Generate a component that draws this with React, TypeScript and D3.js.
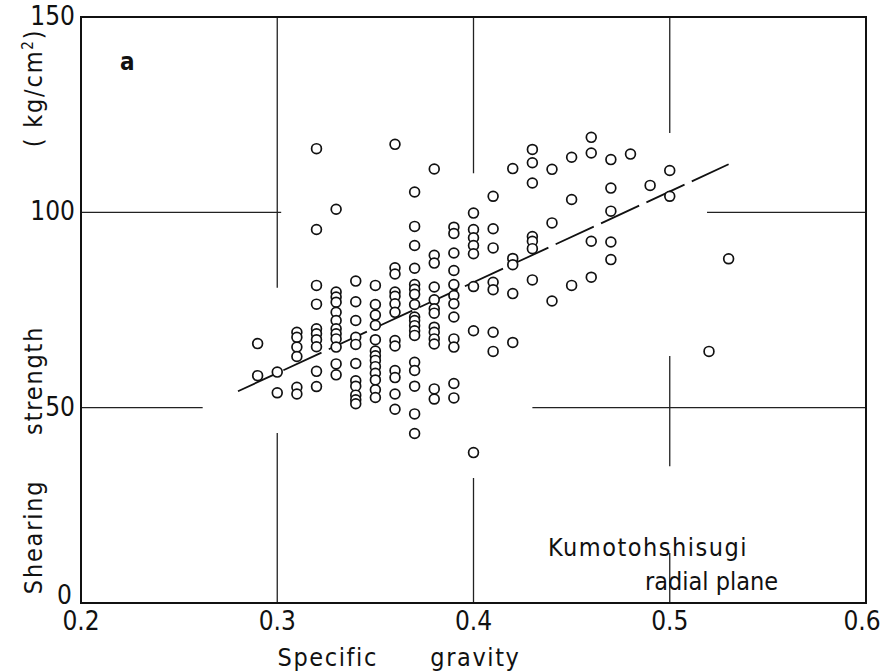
import { useEffect, useRef } from "react";
import * as d3 from "d3";

// specific gravity columns and the shearing strengths read at each one
const gravity = [0.29, 0.3, 0.31, 0.32, 0.33, 0.34, 0.35, 0.36, 0.37, 0.38, 0.39, 0.4, 0.41, 0.42, 0.43, 0.44, 0.45, 0.46, 0.47, 0.48, 0.49, 0.5, 0.52, 0.53];
const strength = [
  [66.4, 58.2],
  [59.1, 53.8],
  [69.3, 68.0, 65.5, 63.1, 55.2, 53.5],
  [116.3, 95.6, 81.3, 76.5, 70.2, 68.9, 67.4, 65.6, 59.3, 55.4],
  [100.8, 79.6, 78.3, 77.0, 74.4, 72.3, 70.2, 68.9, 67.6, 65.5, 61.2, 58.4],
  [82.4, 77.1, 72.3, 68.0, 66.2, 61.3, 56.9, 55.5, 53.2, 52.0, 51.0],
  [81.3, 76.4, 73.7, 71.1, 67.4, 64.5, 63.3, 62.1, 60.5, 58.8, 57.1, 54.6, 52.6],
  [117.4, 85.8, 84.2, 79.6, 78.5, 76.6, 74.4, 67.2, 65.8, 59.5, 57.7, 53.5, 49.6],
  [105.2, 96.4, 91.5, 85.7, 81.5, 80.3, 79.0, 76.4, 73.2, 72.3, 71.0, 69.7, 68.5, 61.6, 59.5, 55.5, 48.4, 43.4],
  [111.1, 89.0, 87.0, 80.9, 77.6, 75.3, 74.2, 70.6, 69.3, 67.6, 66.3, 54.8, 52.2],
  [96.2, 94.6, 89.6, 85.1, 81.5, 78.7, 76.6, 73.2, 67.6, 65.5, 56.2, 52.5],
  [99.8, 95.6, 93.5, 91.5, 89.4, 81.0, 69.7, 38.5],
  [104.1, 95.8, 90.9, 82.1, 80.2, 69.3, 64.4],
  [111.2, 88.2, 86.6, 79.2, 66.7],
  [116.1, 112.7, 107.5, 93.8, 92.6, 90.7, 82.7],
  [111.0, 97.3, 77.3],
  [114.1, 103.3, 81.3],
  [119.2, 115.2, 92.6, 83.4],
  [113.5, 106.2, 100.3, 92.4, 87.9],
  [114.9],
  [106.9],
  [110.7, 104.1],
  [64.4],
  [88.1],
];

// regression line end points
const fitGravity = [0.28, 0.53];
const fitStrength = [54.2, 112.3];

const xTicks = [0.2, 0.3, 0.4, 0.5, 0.6];
const yTicks = [0, 50, 100, 150];

// grid pieces, only drawn where the points leave room
const gridV = [
  { at: 0.3, from: 150, to: 80.7 },
  { at: 0.3, from: 43.5, to: 0 },
  { at: 0.4, from: 150, to: 110 },
  { at: 0.4, from: 32, to: 0 },
  { at: 0.5, from: 150, to: 120.3 },
  { at: 0.5, from: 63.2, to: 35 },
  { at: 0.5, from: 12.8, to: 0 },
];
const gridH = [
  { at: 100, from: 0.2, to: 0.302 },
  { at: 100, from: 0.519, to: 0.6 },
  { at: 50, from: 0.2, to: 0.262 },
  { at: 50, from: 0.43, to: 0.6 },
];

const font = "'Liberation Sans Narrow', 'DejaVu Sans Condensed', 'Liberation Sans', sans-serif";

export default function App() {
  const svgRef = useRef<SVGSVGElement>(null);

  useEffect(() => {
    if (!svgRef.current) return;
    const svg = d3.select(svgRef.current);
    svg.selectAll("*").remove();

    const width = 881;
    const height = 672;
    const margin = { top: 17, right: 15, bottom: 69, left: 81 };

    const x = d3.scaleLinear().domain([0.2, 0.6]).range([margin.left, width - margin.right]);
    const y = d3.scaleLinear().domain([0, 150]).range([height - margin.bottom, margin.top]);

    svg.append("rect").attr("width", width).attr("height", height).attr("fill", "#fff");

    // grid
    svg.selectAll(".gv")
      .data(gridV)
      .join("line")
      .attr("x1", (d) => x(d.at))
      .attr("x2", (d) => x(d.at))
      .attr("y1", (d) => y(d.from))
      .attr("y2", (d) => y(d.to))
      .attr("stroke", "#222")
      .attr("stroke-width", 1.3);

    svg.selectAll(".gh")
      .data(gridH)
      .join("line")
      .attr("x1", (d) => x(d.from))
      .attr("x2", (d) => x(d.to))
      .attr("y1", (d) => y(d.at))
      .attr("y2", (d) => y(d.at))
      .attr("stroke", "#222")
      .attr("stroke-width", 1.3);

    // frame
    svg.append("rect")
      .attr("x", x(0.2))
      .attr("y", y(150))
      .attr("width", x(0.6) - x(0.2))
      .attr("height", y(0) - y(150))
      .attr("fill", "none")
      .attr("stroke", "#111")
      .attr("stroke-width", 2);

    // tick labels
    svg.selectAll(".yt")
      .data(yTicks)
      .join("text")
      .attr("x", (d) => (d === 0 ? x(0.2) - 9 : x(0.2) - 6))
      .attr("y", (d) => (d === 0 ? y(d) + 1 : y(d) + 8))
      .attr("text-anchor", "end")
      .attr("font-family", font)
      .attr("font-size", 26)
      .attr("fill", "#111")
      .text((d) => d);

    svg.selectAll(".xt")
      .data(xTicks)
      .join("text")
      .attr("x", (d) => (d === 0.6 ? x(d) - 4 : x(d)))
      .attr("y", y(0) + 27)
      .attr("text-anchor", "middle")
      .attr("font-family", font)
      .attr("font-size", 26)
      .attr("fill", "#111")
      .text((d) => d3.format(".1f")(d));

    // regression line
    const line = d3
      .line<number>()
      .x((d) => x(d))
      .y((_, i) => y(fitStrength[i]));
    svg.append("path")
      .datum(fitGravity)
      .attr("d", line)
      .attr("fill", "none")
      .attr("stroke", "#111")
      .attr("stroke-width", 1.8)
      .attr("stroke-dasharray", "42 8");

    // points
    const pts = gravity.flatMap((g, i) => strength[i].map((s) => ({ g, s })));
    svg.selectAll(".pt")
      .data(pts)
      .join("circle")
      .attr("cx", (d) => x(d.g))
      .attr("cy", (d) => y(d.s))
      .attr("r", 4.9)
      .attr("fill", "#fff")
      .attr("stroke", "#111")
      .attr("stroke-width", 1.7);

    // titles
    svg.append("text")
      .attr("x", x(0.2) + 39)
      .attr("y", 70)
      .attr("font-family", font)
      .attr("font-size", 24)
      .attr("font-weight", "bold")
      .attr("fill", "#111")
      .text("a");

    svg.append("text")
      .attr("x", 399)
      .attr("y", 666)
      .attr("text-anchor", "middle")
      .attr("font-family", font)
      .attr("font-size", 25)
      .attr("letter-spacing", 1.6)
      .attr("fill", "#111")
      .attr("xml:space", "preserve")
      .text("Specific      gravity");

    svg.append("text")
      .attr("transform", "translate(42,460) rotate(-90)")
      .attr("text-anchor", "middle")
      .attr("font-family", font)
      .attr("font-size", 25)
      .attr("letter-spacing", 1.8)
      .attr("fill", "#111")
      .attr("xml:space", "preserve")
      .text("Shearing     strength");

    const unit = svg.append("text")
      .attr("transform", "translate(42,88) rotate(-90)")
      .attr("text-anchor", "middle")
      .attr("font-family", font)
      .attr("font-size", 25)
      .attr("letter-spacing", 1.8)
      .attr("fill", "#111")
      .attr("xml:space", "preserve");
    unit.append("tspan").text("( kg/cm");
    unit.append("tspan").attr("dy", -9).attr("font-size", 15).text("2");
    unit.append("tspan").attr("dy", 9).text(")");

    svg.append("text")
      .attr("x", 548)
      .attr("y", 556)
      .attr("font-family", font)
      .attr("font-size", 25)
      .attr("letter-spacing", 1.5)
      .attr("fill", "#111")
      .text("Kumotohshisugi");

    svg.append("text")
      .attr("x", 645)
      .attr("y", 590)
      .attr("font-family", font)
      .attr("font-size", 25)
      .attr("letter-spacing", 0)
      .attr("fill", "#111")
      .text("radial plane");
  }, []);

  return (
    <svg
      ref={svgRef}
      width={881}
      height={672}
      style={{ position: "absolute", left: 0, top: 0 }}
    />
  );
}
